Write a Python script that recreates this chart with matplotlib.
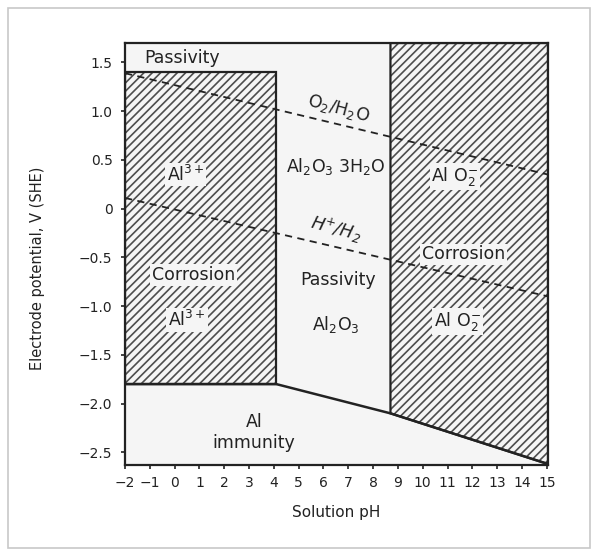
import matplotlib
matplotlib.use("Agg")
import matplotlib.pyplot as plt
from matplotlib.patches import Polygon, Rectangle

plt.rcParams['font.family'] = ['DejaVu Sans']
plt.rcParams['mathtext.default'] = 'regular'
plt.rcParams['hatch.linewidth'] = 1.2

# ---------------------------------------------------------------------
# data (pH, potential in V vs SHE)
# ---------------------------------------------------------------------
ph_ticks = list(range(-2, 16))
e_ticks = [1.5, 1.0, 0.5, 0, -0.5, -1.0, -1.5, -2.0, -2.5]
e_tick_labels = ['1.5', '1.0', '0.5', '0', '\u22120.5', '\u22121.0',
                 '\u22121.5', '\u22122.0', '\u22122.5']

# Al3+ corrosion field (left)
acid_ph = [-2, 4.1, 4.1, -2]
acid_e = [-1.8, -1.8, 1.4, 1.4]

# AlO2- corrosion field (right)
alk_ph = [8.7, 15.05, 15.05, 8.7]
alk_e = [1.7, 1.7, -2.62, -2.1]

# immunity boundary
imm_ph = [-2, 4.1, 8.7, 15.05]
imm_e = [-1.8, -1.8, -2.1, -2.62]

# water lines
o2_ph = [-2, 15.05]
o2_e = [1.39, 0.35]
h2_ph = [-2, 15.05]
h2_e = [0.11, -0.90]

# region labels: text, pH, E, rotation, style
labels = [
    ('Passivity', 0.3, 1.55, 0, 'normal'),
    ('Al$^{3+}$', 0.45, 0.35, 0, 'normal'),
    ('Corrosion', 0.75, -0.68, 0, 'normal'),
    ('Al$^{3+}$', 0.5, -1.14, 0, 'normal'),
    ('Al$_2$O$_3$ 3H$_2$O', 6.5, 0.43, 0, 'normal'),
    ('O$_2$/H$_2$O', 6.6, 1.03, -15, 'normal'),
    ('H$^{+}$/H$_2$', 6.5, -0.21, -15, 'italic'),
    ('Passivity', 6.6, -0.73, 0, 'normal'),
    ('Al$_2$O$_3$', 6.5, -1.19, 0, 'normal'),
    ('Al O$_2^{-}$', 11.3, 0.33, 0, 'normal'),
    ('Corrosion', 11.65, -0.47, 0, 'normal'),
    ('Al O$_2^{-}$', 11.4, -1.16, 0, 'normal'),
    ('Al', 3.2, -2.19, 0, 'normal'),
    ('immunity', 3.2, -2.40, 0, 'normal'),
]

bg = '#f5f5f5'
ink = '#222222'
hatch_ink = '#4d4d4d'

fig = plt.figure(figsize=(6.03, 5.54), dpi=100)
fig.patch.set_facecolor('white')
fig.patches.append(Rectangle((8 / 603, 1 - 548 / 554), 582 / 603, 540 / 554,
                             transform=fig.transFigure, fill=False,
                             edgecolor='#c8c8c8', linewidth=1.2))

ax = fig.add_axes([125 / 603, 1 - 465 / 554, 423 / 603, 422 / 554])
ax.set_facecolor(bg)

# hatched corrosion fields (hatch in grey, outline in black)
for xs, ys in [(acid_ph, acid_e), (alk_ph, alk_e)]:
    pts = list(zip(xs, ys))
    ax.add_patch(Polygon(pts, closed=True, facecolor=bg, edgecolor=hatch_ink,
                         hatch='////', linewidth=0, zorder=1))
    ax.add_patch(Polygon(pts, closed=True, fill=False, edgecolor=ink,
                         linewidth=1.6, zorder=2))

# immunity line
ax.plot(imm_ph, imm_e, color=ink, linewidth=1.8, zorder=3)

# water stability lines
ax.plot(o2_ph, o2_e, color=ink, linewidth=1.3, linestyle=(0, (4, 3)), zorder=3)
ax.plot(h2_ph, h2_e, color=ink, linewidth=1.3, linestyle=(0, (4, 3)), zorder=3)

for txt, x, y, rot, style in labels:
    ax.text(x, y, txt, ha='center', va='center', rotation=rot,
            fontsize=12.5, style=style, color=ink, zorder=5,
            bbox=dict(boxstyle='square,pad=0.1', facecolor=bg,
                      edgecolor='none') if rot == 0 else None)

ax.set_xlim(-2.0, 15.05)
ax.set_ylim(-2.63, 1.70)
ax.set_xticks(ph_ticks)
ax.set_xticklabels([str(t).replace('-', '\u2212') for t in ph_ticks])
ax.set_yticks(e_ticks)
ax.set_yticklabels(e_tick_labels)
ax.tick_params(direction='out', length=3, width=1.2, color=ink,
               labelsize=10, labelcolor=ink)
ax.tick_params(axis='x', pad=5)
ax.tick_params(axis='y', pad=6)
for sp in ax.spines.values():
    sp.set_linewidth(1.6)
    sp.set_color(ink)

fig.text(38 / 603, 1 - 268 / 554, 'Electrode potential, V (SHE)',
         rotation=90, ha='center', va='center', fontsize=10.5, color=ink)
fig.text(336 / 603, 1 - 512 / 554, 'Solution pH', ha='center', va='center',
         fontsize=11, color=ink)

fig.savefig('out.png', dpi=100, facecolor='white')
